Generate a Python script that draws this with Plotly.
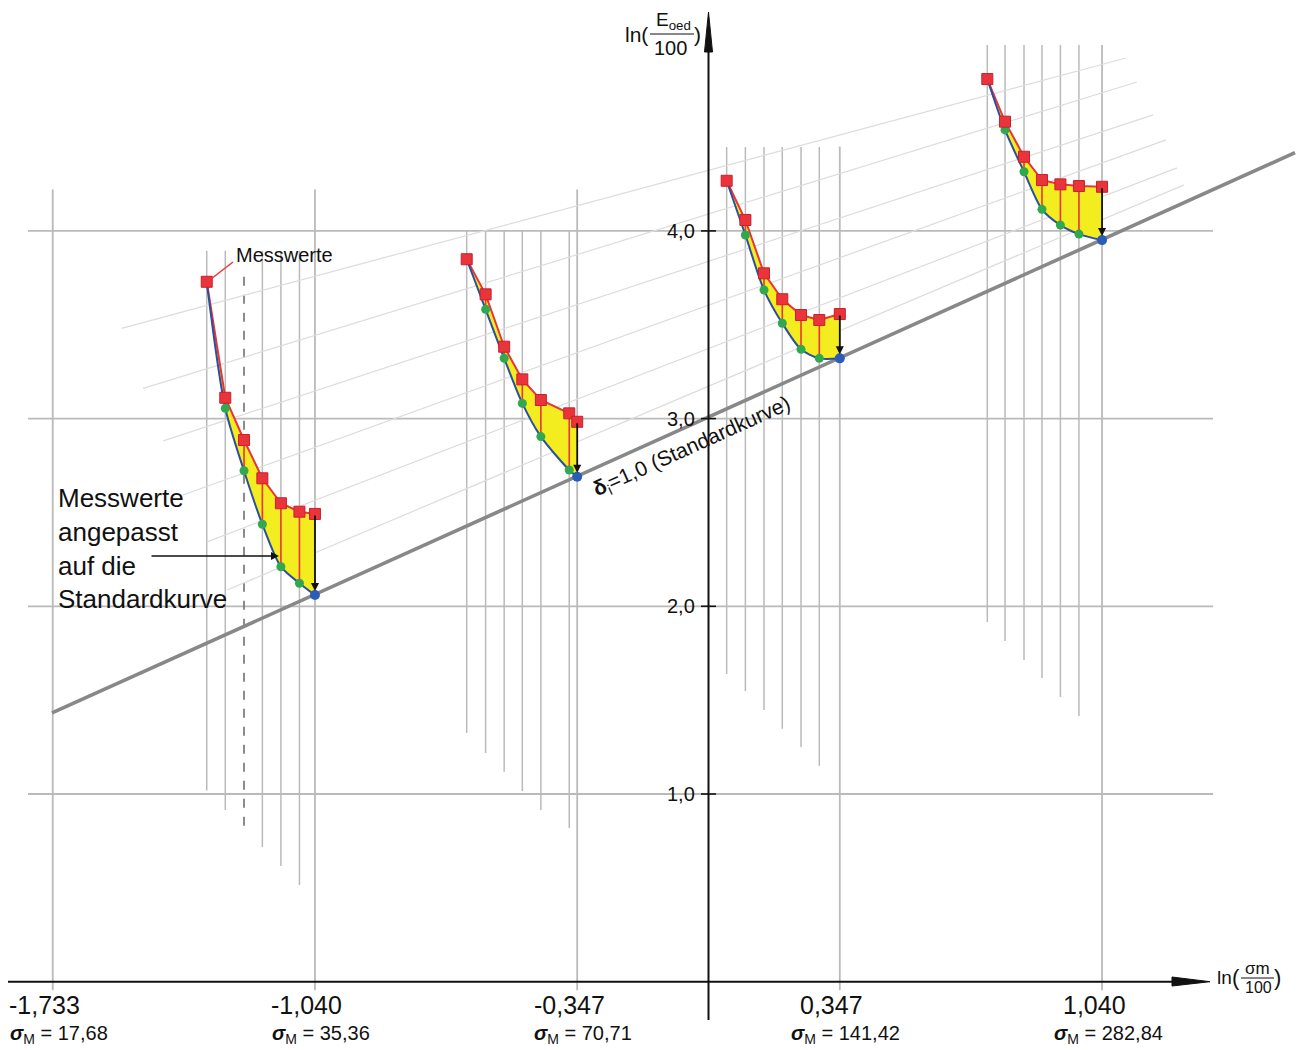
import plotly.graph_objects as go

# ---------------- data ----------------
# main x ticks: ln(sigma/100)
x_ticks = [-1.733, -1.040, -0.347, 0.347, 1.040]
x_tick_text = ["-1,733", "-1,040", "-0,347", "0,347", "1,040"]
sigma_text = ["17,68", "35,36", "70,71", "141,42", "282,84"]
x_grid_top = [4.22, 4.22, 4.22, 4.45, 4.99]

y_ticks = [1, 2, 3, 4]
y_tick_text = ["1,0", "2,0", "3,0", "4,0"]

# standard curve (delta_i = 1,0)
std_x = [-1.735, 1.550]
std_y = [1.432, 4.417]

# faint auxiliary lines
faint_x0 = [-1.551, -1.494, -1.441, -1.389, -1.325, -1.272]
faint_y0 = [3.481, 3.161, 2.881, 2.593, 2.343, 2.087]
faint_x1 = [1.103, 1.132, 1.175, 1.209, 1.238, 1.257]
faint_y1 = [4.921, 4.793, 4.618, 4.485, 4.336, 4.245]

# group 1 (ends at -1,040)
g1_x = [-1.326, -1.277, -1.2275, -1.179, -1.130, -1.081, -1.040]
g1_meas = [3.729, 3.111, 2.886, 2.682, 2.549, 2.504, 2.492]
g1_adj = [3.729, 3.055, 2.722, 2.437, 2.211, 2.123, 2.060]
g1_top = 3.894
g1_bottom = [1.018, 0.915, 0.819, 0.717, 0.616, 0.515]

# group 2 (ends at -0,347)
g2_x = [-0.639, -0.589, -0.540, -0.492, -0.443, -0.368, -0.347]
g2_meas = [3.849, 3.662, 3.383, 3.209, 3.099, 3.028, 2.983]
g2_adj = [3.849, 3.582, 3.321, 3.081, 2.904, 2.726, 2.690]
g2_top = 4.0
g2_bottom = [1.325, 1.219, 1.118, 1.016, 0.915, 0.819]

# group 3 (ends at 0,347)
g3_x = [0.048, 0.0975, 0.1467, 0.195, 0.2445, 0.2928, 0.347]
g3_meas = [4.267, 4.058, 3.774, 3.636, 3.552, 3.525, 3.557]
g3_adj = [4.267, 3.978, 3.685, 3.508, 3.369, 3.321, 3.321]
g3_top = 4.447
g3_bottom = [1.639, 1.549, 1.448, 1.347, 1.251, 1.150]

# group 4 (ends at 1,040)
g4_x = [0.7368, 0.7836, 0.8338, 0.8813, 0.930, 0.979, 1.040]
g4_meas = [4.809, 4.582, 4.395, 4.271, 4.248, 4.239, 4.235]
g4_adj = [4.809, 4.538, 4.315, 4.115, 4.031, 3.983, 3.951]
g4_top = 4.99
g4_bottom = [1.916, 1.815, 1.714, 1.618, 1.517, 1.416]

dashed_top = 3.756  # dashed helper line in group 1 (third line)

# ---------------- layout helpers ----------------
X0_PX, X_SCALE = 708.5, 378.4
Y0_PX, Y_SCALE = 981.7, 187.7
W, H = 1299, 1050


def dx(px):
    return (px - X0_PX) / X_SCALE


def dy(py):
    return (Y0_PX - py) / Y_SCALE


FONT = "Liberation Sans, Arial, Helvetica, sans-serif"
GRID = "#bababa"
RED = "#e8343a"
BLUE = "#2b4f9f"
GREEN = "#2fa84f"
YELLOW = "#f3ec1e"

groups = [
    dict(x=g1_x, meas=g1_meas, adj=g1_adj, top=g1_top, bottom=g1_bottom),
    dict(x=g2_x, meas=g2_meas, adj=g2_adj, top=g2_top, bottom=g2_bottom),
    dict(x=g3_x, meas=g3_meas, adj=g3_adj, top=g3_top, bottom=g3_bottom),
    dict(x=g4_x, meas=g4_meas, adj=g4_adj, top=g4_top, bottom=g4_bottom),
]

fig = go.Figure()


def seg_trace(xs, ys, color, width, dash="solid"):
    fig.add_trace(go.Scatter(x=xs, y=ys, mode="lines",
                             line=dict(color=color, width=width, dash=dash),
                             hoverinfo="skip", showlegend=False))


# horizontal gridlines
hx, hy = [], []
for v in y_ticks:
    hx += [dx(28), dx(1213), None]
    hy += [v, v, None]
seg_trace(hx, hy, GRID, 1.8)

# main vertical gridlines
vx, vy = [], []
for t, top in zip(x_ticks, x_grid_top):
    vx += [t, t, None]
    vy += [top, -0.045, None]
seg_trace(vx, vy, GRID, 1.8)

# group vertical lines
gx, gy = [], []
for gi, g in enumerate(groups):
    for i in range(6):
        if gi == 0 and i == 2:
            continue
        gx += [g["x"][i], g["x"][i], None]
        gy += [g["top"], g["bottom"][i], None]
seg_trace(gx, gy, GRID, 1.5)
# dashed line in group 1
seg_trace([g1_x[2], g1_x[2]], [dashed_top, g1_bottom[2]], "#707070", 1.6, "dash")

# faint auxiliary lines
fx, fy = [], []
for a, b, c, d in zip(faint_x0, faint_y0, faint_x1, faint_y1):
    fx += [a, c, None]
    fy += [b, d, None]
seg_trace(fx, fy, "#dcdcdc", 1.2)

# standard curve
seg_trace(std_x, std_y, "#888888", 3.6)

# axes lines
seg_trace([dx(8), dx(1180)], [0, 0], "#111111", 2)
seg_trace([0, 0], [dy(1020), dy(45)], "#111111", 2)
# arrow heads
fig.add_trace(go.Scatter(x=[dx(1172), dx(1210), dx(1172), dx(1172)],
                         y=[dy(977), 0, dy(986), dy(977)], mode="lines",
                         fill="toself", fillcolor="#111111",
                         line=dict(color="#111111", width=1),
                         hoverinfo="skip", showlegend=False))
fig.add_trace(go.Scatter(x=[dx(704.5), 0, dx(712.5), dx(704.5)],
                         y=[dy(52), dy(12), dy(52), dy(52)], mode="lines",
                         fill="toself", fillcolor="#111111",
                         line=dict(color="#111111", width=1),
                         hoverinfo="skip", showlegend=False))
# y ticks
tx, ty = [], []
for v in y_ticks:
    tx += [dx(701), dx(716), None]
    ty += [v, v, None]
seg_trace(tx, ty, "#111111", 1.6)

# groups: fill, connectors, curves, markers
for g in groups:
    xs, meas, adj = g["x"], g["meas"], g["adj"]
    # hidden adjusted curve as the fill base
    fig.add_trace(go.Scatter(x=xs, y=adj, mode="lines",
                             line=dict(width=0, shape="spline", smoothing=0.8),
                             hoverinfo="skip", showlegend=False))
    fig.add_trace(go.Scatter(x=xs, y=meas, mode="lines", fill="tonexty",
                             fillcolor=YELLOW, line=dict(width=0),
                             hoverinfo="skip", showlegend=False))
    # red vertical connectors
    cx, cy = [], []
    for i in range(1, 6):
        cx += [xs[i], xs[i], None]
        cy += [meas[i], adj[i], None]
    seg_trace(cx, cy, RED, 1.6)
    # measured polyline
    seg_trace(xs, meas, RED, 2)
    # adjusted curve
    fig.add_trace(go.Scatter(x=xs, y=adj, mode="lines",
                             line=dict(color=BLUE, width=2, shape="spline", smoothing=0.8),
                             hoverinfo="skip", showlegend=False))
    # green points
    fig.add_trace(go.Scatter(x=xs[1:6], y=adj[1:6], mode="markers",
                             marker=dict(color=GREEN, size=9),
                             hoverinfo="skip", showlegend=False))
    # blue end point
    fig.add_trace(go.Scatter(x=[xs[6]], y=[adj[6]], mode="markers",
                             marker=dict(color="#2a5cb8", size=10),
                             hoverinfo="skip", showlegend=False))
    # measured squares
    fig.add_trace(go.Scatter(x=xs, y=meas, mode="markers",
                             marker=dict(symbol="square", color=RED, size=11,
                                         line=dict(color="#c9202a", width=1)),
                             hoverinfo="skip", showlegend=False))

annotations = []
# black arrows from last measured value to standard curve
for g in groups:
    annotations.append(dict(x=g["x"][6], y=g["adj"][6], ax=g["x"][6], ay=g["meas"][6],
                            xref="x", yref="y", axref="x", ayref="y", text="",
                            showarrow=True, arrowhead=2, arrowsize=0.9, arrowwidth=1.8,
                            arrowcolor="#111111", standoff=4))

# x tick labels
for t, lab, sg in zip(x_ticks, x_tick_text, sigma_text):
    annotations.append(dict(x=t, y=dy(1005), xref="x", yref="y", text=lab,
                            showarrow=False, xshift=-8,
                            font=dict(family=FONT, size=25, color="#111111")))
    annotations.append(dict(x=t, y=dy(1034), xref="x", yref="y",
                            text="<b><i>σ</i></b><sub>M</sub> = " + sg,
                            showarrow=False, xshift=6,
                            font=dict(family=FONT, size=20, color="#111111")))
# y tick labels
for v, lab in zip(y_ticks, y_tick_text):
    annotations.append(dict(x=dx(681), y=v, xref="x", yref="y", text=lab,
                            showarrow=False,
                            font=dict(family=FONT, size=20, color="#111111")))

# axis titles
axis_title_parts = [
    # y-axis title ln(Eoed/100)
    dict(x=dx(636), y=dy(34), text="ln(", font=dict(family=FONT, size=21, color="#111111")),
    dict(x=dx(673), y=dy(21), text="E<sub>oed</sub>", font=dict(family=FONT, size=19, color="#111111")),
    dict(x=dx(670), y=dy(48), text="100", font=dict(family=FONT, size=20, color="#111111")),
    dict(x=dx(697), y=dy(34), text=")", font=dict(family=FONT, size=21, color="#111111")),
    # x-axis title ln(sigma_m/100)
    dict(x=dx(1224), y=dy(977), text="ln", font=dict(family=FONT, size=19, color="#111111")),
    dict(x=dx(1236), y=dy(977), text="(", font=dict(family=FONT, size=22, color="#111111")),
    dict(x=dx(1257), y=dy(968), text="σm", font=dict(family=FONT, size=17, color="#111111")),
    dict(x=dx(1258), y=dy(987), text="100", font=dict(family=FONT, size=16, color="#111111")),
    dict(x=dx(1277), y=dy(977), text=")", font=dict(family=FONT, size=22, color="#111111")),
]
for a in axis_title_parts:
    a.update(xref="x", yref="y", showarrow=False)
annotations += axis_title_parts

# "Messwerte" label with red leader
annotations.append(dict(x=dx(234), y=dy(255), xref="x", yref="y", text="Messwerte",
                        xanchor="left", showarrow=False,
                        font=dict(family=FONT, size=20, color="#111111")))
seg_trace([dx(233), dx(211)], [dy(262), dy(279)], RED, 1.5)

# adjusted values explanation
annotations.append(dict(x=dx(56), y=dy(548), xref="x", yref="y",
                        text="Messwerte<br>angepasst<br>auf die<br>Standardkurve",
                        xanchor="left", align="left", showarrow=False,
                        font=dict(family=FONT, size=26, color="#111111")))
annotations.append(dict(x=dx(279), y=dy(556), ax=dx(150), ay=dy(556),
                        xref="x", yref="y", axref="x", ayref="y", text="",
                        showarrow=True, arrowhead=2, arrowsize=1, arrowwidth=1.6,
                        arrowcolor="#111111"))

# standard curve label
annotations.append(dict(x=dx(692), y=dy(447), xref="x", yref="y",
                        text="<b>δ</b><sub>i</sub>=1,0 (Standardkurve)",
                        textangle=-24.3, showarrow=False,
                        font=dict(family=FONT, size=21, color="#111111")))

# fraction bars
shapes = [
    dict(type="line", xref="x", yref="y", x0=dx(650), x1=dx(694), y0=dy(34), y1=dy(34),
         line=dict(color="#111111", width=1)),
    dict(type="line", xref="x", yref="y", x0=dx(1241), x1=dx(1274), y0=dy(978), y1=dy(978),
         line=dict(color="#111111", width=1)),
]

fig.update_layout(
    width=W, height=H,
    margin=dict(l=0, r=0, t=0, b=0),
    paper_bgcolor="white", plot_bgcolor="white",
    xaxis=dict(range=[dx(0), dx(W)], visible=False, fixedrange=True),
    yaxis=dict(range=[dy(H), dy(0)], visible=False, fixedrange=True),
    annotations=annotations,
    shapes=shapes,
    showlegend=False,
)

fig.write_html("out.html", config={"displayModeBar": False},
               post_script="document.body.style.margin='0';document.body.style.overflow='hidden';")
